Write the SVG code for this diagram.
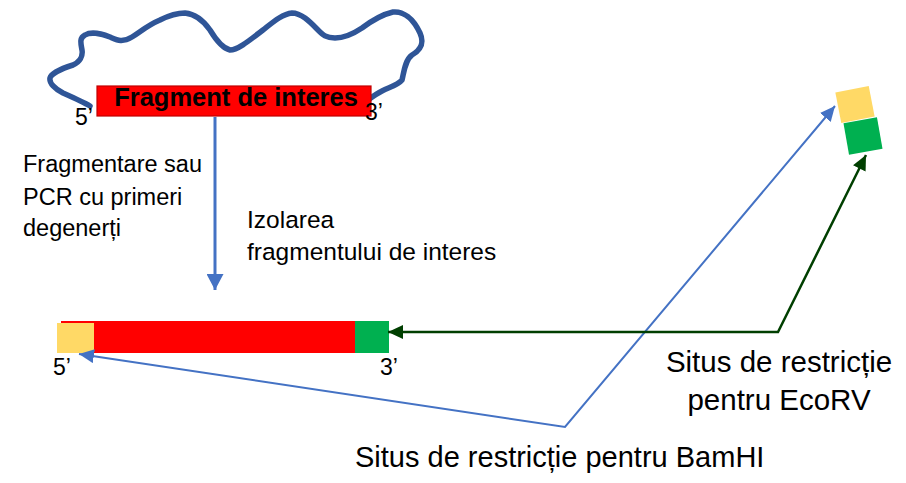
<svg xmlns="http://www.w3.org/2000/svg" width="906" height="483" viewBox="0 0 906 483">
<style>
text{font-family:"Liberation Sans",Arial,sans-serif;fill:#000}
.lab{font-size:23.5px}
.big{font-size:29px}
.blue{fill:none;stroke:#4472C4;stroke-width:2}
.green{fill:none;stroke:#003F00;stroke-width:2.5}
</style>
<defs>
<marker id="ab" markerUnits="userSpaceOnUse" markerWidth="16" markerHeight="14" refX="15" refY="7" orient="auto-start-reverse"><path d="M0,0 L15,7 L0,14 Z" fill="#4472C4"/></marker>
<marker id="abv" markerUnits="userSpaceOnUse" markerWidth="17" markerHeight="17" refX="16" refY="8.5" orient="auto"><path d="M0,0 L16,8.5 L0,17 Z" fill="#4472C4"/></marker>
<marker id="ag" markerUnits="userSpaceOnUse" markerWidth="16" markerHeight="14" refX="15" refY="7" orient="auto-start-reverse"><path d="M0,0 L15,7 L0,14 Z" fill="#003F00"/></marker>
</defs>
<rect width="906" height="483" fill="#fff"/>
<g id="dna">
<path d="M90,106 C85,103 72,97 63,93 C55,89 49,83 50,78 C51,74 60,69 73,65 C80,62 83,56 82,50 C81,44 79,38 85,35 C90,32 100,33 110,37 C117,40 122,43 132,37 C140,32 148,25 160,20 C168,16 176,13 185,13 C195,14 203,20 210,30 C216,40 222,48 230,50 C238,50 250,40 263,30 C272,23 282,14 292,13 C302,13 311,23 318,30 C323,35 326,38 335,38 C342,38 350,36 362,28 C370,22 380,15 393,12 C403,11 413,18 420,33 C424,42 422,49 412,55 C405,60 404,72 402,80 C398,85 390,87 382,91 C376,94 372,97 368,100" fill="none" stroke="#2F5597" stroke-width="5.5" stroke-linecap="round" stroke-linejoin="round"/>
</g>
<g id="fragment">
<rect x="97" y="86" width="274" height="30" fill="#FF0000" stroke="#C00000" stroke-width="1.2"/>
<text x="236" y="106" font-size="25.5" font-weight="bold" text-anchor="middle">Fragment de interes</text>
<text x="75" y="125" style="font-size:23px">5’</text>
<text x="365" y="120" style="font-size:23px">3’</text>
</g>
<g id="construct">
<rect x="61" y="321" width="328" height="32" fill="#FF0000"/>
<rect x="57" y="323" width="37" height="30" fill="#FFD966"/>
<rect x="355" y="321" width="34" height="32" fill="#00B050"/>
<text x="53" y="375" style="font-size:23px">5’</text>
<text x="380" y="375" style="font-size:23px">3’</text>
</g>
<g id="sites">
<rect x="838" y="89" width="34" height="31" fill="#FFD966" transform="rotate(-11 855 104.5)"/>
<rect x="846" y="120" width="34" height="32" fill="#00B050" transform="rotate(-10 863 136)"/>
</g>
<g id="connectors">
<path class="blue" d="M215,117 L215,290" style="stroke-width:3" marker-end="url(#abv)"/>
<path class="blue" d="M79,354 L565,427 L835,106" marker-start="url(#ab)" marker-end="url(#ab)"/>
<path class="green" d="M388,332 L778,332 L866,155" marker-start="url(#ag)" marker-end="url(#ag)"/>
</g>
<g id="labels">
<text class="lab" x="23" y="172">Fragmentare sau</text>
<text class="lab" x="23" y="205">PCR cu primeri</text>
<text class="lab" x="23" y="236">degenerți</text>
<text class="lab" x="247" y="228" style="font-size:24.5px">Izolarea</text>
<text class="lab" x="247" y="260" style="font-size:24.5px">fragmentului de interes</text>
<text class="big" x="779" y="372" text-anchor="middle" style="font-size:29.5px">Situs de restricție</text>
<text class="big" x="779" y="410" text-anchor="middle" style="font-size:29.5px">pentru EcoRV</text>
<text class="big" x="355" y="467">Situs de restricție pentru BamHI</text>
</g>
</svg>
